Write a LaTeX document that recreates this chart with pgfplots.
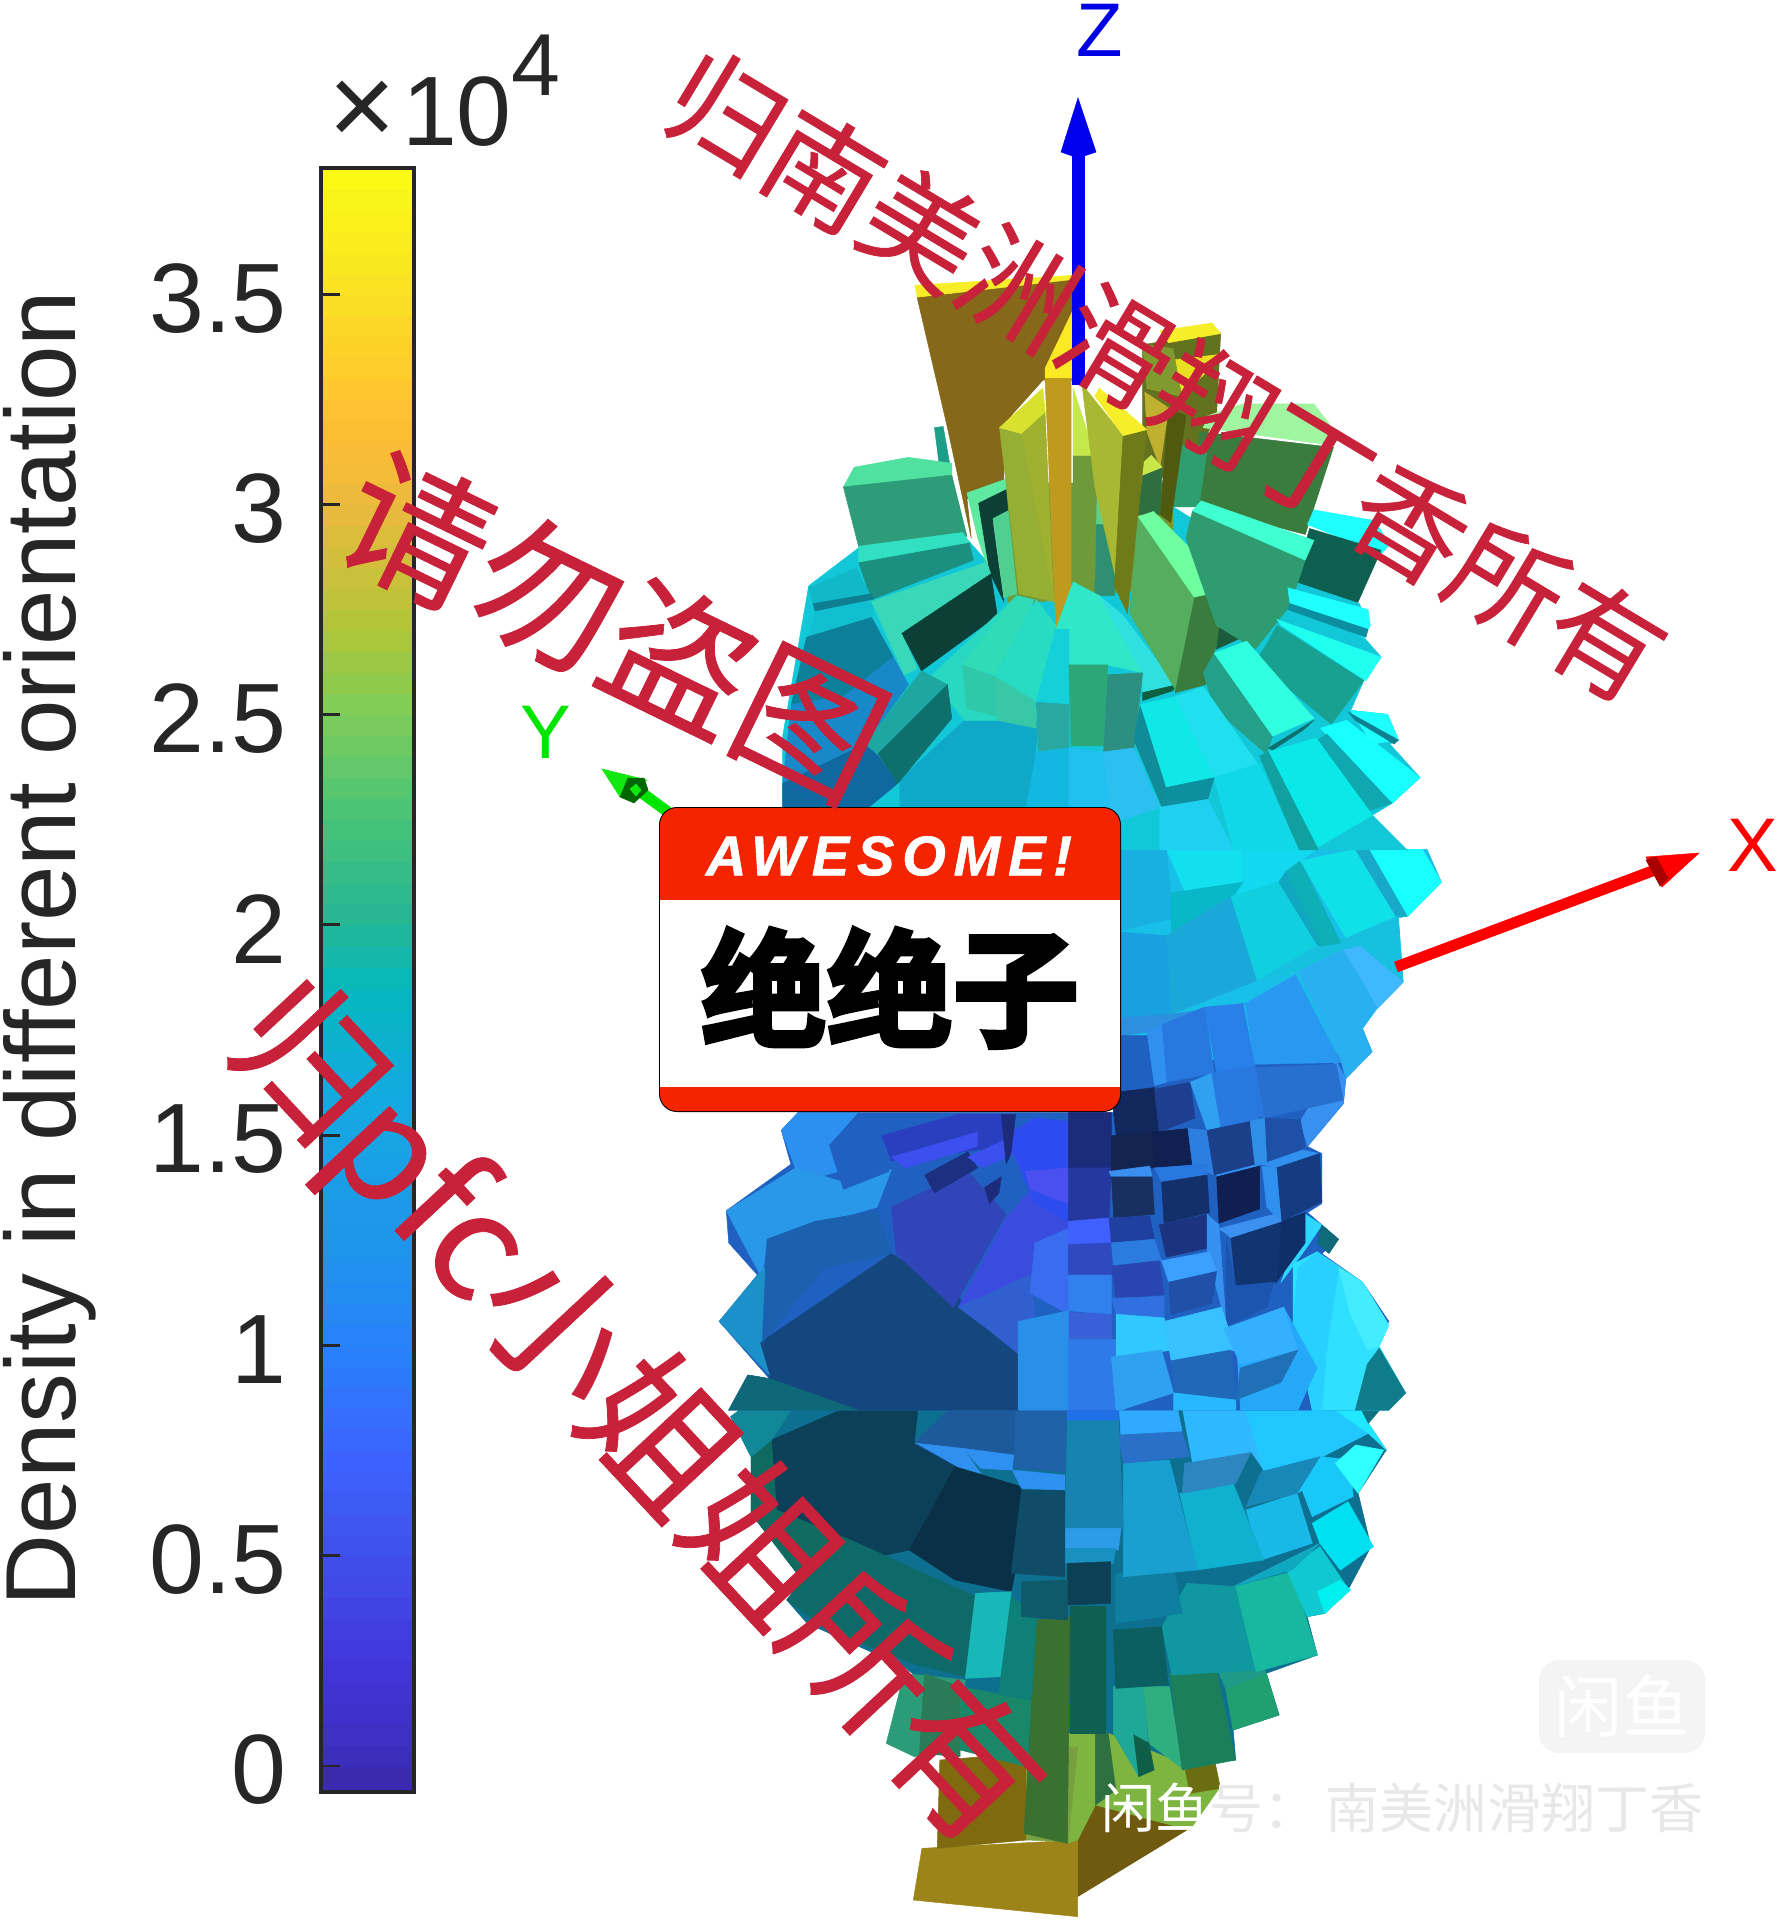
\documentclass[border=0pt]{standalone}
\usepackage{pgfplots}
\pgfplotsset{compat=1.18}
\usepackage{fontspec}
\setmainfont{Liberation Sans}
\newfontfamily\cjk{Noto Sans CJK SC}
\newfontfamily\cjkw[FakeBold=0.5]{Noto Sans CJK SC}
\newfontfamily\cjkh[FakeBold=4]{Noto Sans CJK SC Bold}
\newcommand\Q[2]{\definecolor{q#1}{HTML}{#1}\addplot[fill=q#1,draw=q#1,line width=.25pt,forget plot] coordinates {#2} -- cycle;}
\pgfplotsset{fullpage/.style={at={(0,0)},anchor=south west,scale only axis,width=890pt,height=960pt,hide axis,y dir=reverse,clip=false}}
\begin{document}
\begin{tikzpicture}
\path[use as bounding box] (0,0) rectangle (890pt,960pt);
% colour bar
\begin{axis}[at={(160.5pt,64pt)},anchor=south west,scale only axis,width=46.5pt,height=812pt,
 xmin=0,xmax=1,ymin=-0.062,ymax=3.8,xtick=\empty,
 ytick={0,0.5,1,1.5,2,2.5,3,3.5},yticklabels={0,0.5,1,1.5,2,2.5,3,3.5},
 ytick pos=left,tick align=inside,major tick length=9.5pt,
 tick style={line width=1.4pt,color=black!85},
 axis line style={line width=2.2pt,color=black!85},
 axis on top,
 yticklabel style={font=\fontsize{49.3}{50}\selectfont,color=black!85,inner sep=0pt,anchor=east,xshift=-17pt,yshift=-2pt},
 /pgf/number format/assume math mode=true,
 ylabel={Density in different orientation},
 y label style={font=\fontsize{49.8}{50}\selectfont,color=black!85,at={(axis description cs:-2.645,0.5195)},anchor=base,inner sep=0pt},
 point meta min=-0.062,point meta max=3.8,
 colormap={cb}{rgb255(0cm)=(58,40,165);rgb255(0.062cm)=(60,45,185);rgb255(0.312cm)=(65,55,220);rgb255(0.562cm)=(65,80,235);rgb255(0.812cm)=(60,100,255);rgb255(1.062cm)=(40,130,250);rgb255(1.312cm)=(30,150,235);rgb255(1.662cm)=(20,170,225);rgb255(1.912cm)=(5,185,190);rgb255(2.062cm)=(35,182,150);rgb255(2.312cm)=(70,195,120);rgb255(2.562cm)=(125,205,90);rgb255(2.762cm)=(175,198,55);rgb255(3.062cm)=(235,185,60);rgb255(3.262cm)=(255,190,50);rgb255(3.562cm)=(250,225,35);rgb255(3.862cm)=(250,252,20)}]
\addplot[surf,shader=flat,mesh/rows=78,mesh/cols=2,point meta=y,forget plot] coordinates {
(0,-0.062)(1,-0.062)(0,0)(1,0)(0,0.05)(1,0.05)(0,0.1)(1,0.1)(0,0.15)(1,0.15)(0,0.2)(1,0.2)(0,0.25)(1,0.25)(0,0.3)(1,0.3)(0,0.35)(1,0.35)(0,0.4)(1,0.4)
(0,0.45)(1,0.45)(0,0.5)(1,0.5)(0,0.55)(1,0.55)(0,0.6)(1,0.6)(0,0.65)(1,0.65)(0,0.7)(1,0.7)(0,0.75)(1,0.75)(0,0.8)(1,0.8)(0,0.85)(1,0.85)(0,0.9)(1,0.9)(0,0.95)(1,0.95)
(0,1)(1,1)(0,1.05)(1,1.05)(0,1.1)(1,1.1)(0,1.15)(1,1.15)(0,1.2)(1,1.2)(0,1.25)(1,1.25)(0,1.3)(1,1.3)(0,1.35)(1,1.35)(0,1.4)(1,1.4)(0,1.45)(1,1.45)
(0,1.5)(1,1.5)(0,1.55)(1,1.55)(0,1.6)(1,1.6)(0,1.65)(1,1.65)(0,1.7)(1,1.7)(0,1.75)(1,1.75)(0,1.8)(1,1.8)(0,1.85)(1,1.85)(0,1.9)(1,1.9)(0,1.95)(1,1.95)
(0,2)(1,2)(0,2.05)(1,2.05)(0,2.1)(1,2.1)(0,2.15)(1,2.15)(0,2.2)(1,2.2)(0,2.25)(1,2.25)(0,2.3)(1,2.3)(0,2.35)(1,2.35)(0,2.4)(1,2.4)(0,2.45)(1,2.45)
(0,2.5)(1,2.5)(0,2.55)(1,2.55)(0,2.6)(1,2.6)(0,2.65)(1,2.65)(0,2.7)(1,2.7)(0,2.75)(1,2.75)(0,2.8)(1,2.8)(0,2.85)(1,2.85)(0,2.9)(1,2.9)(0,2.95)(1,2.95)
(0,3)(1,3)(0,3.05)(1,3.05)(0,3.1)(1,3.1)(0,3.15)(1,3.15)(0,3.2)(1,3.2)(0,3.25)(1,3.25)(0,3.3)(1,3.3)(0,3.35)(1,3.35)(0,3.4)(1,3.4)(0,3.45)(1,3.45)
(0,3.5)(1,3.5)(0,3.55)(1,3.55)(0,3.6)(1,3.6)(0,3.65)(1,3.65)(0,3.7)(1,3.7)(0,3.75)(1,3.75)(0,3.8)(1,3.8)};
\end{axis}
% lower part of the rose
\begin{axis}[fullpage,xmin=-1372,xmax=2116.8,ymin=-4200,ymax=1560]
\Q{0E7090}{(60,50)(130,-20)(1310,-20)(1310,70)(1345,150)(1290,280)(1315,440)(1270,570)(1225,640)(1190,650)(1210,765)(1110,820)(1135,945)(1045,990)(1050,1080)(900,1100)(800,1200)(720,1200)(400,800)(210,670)(170,600)(200,540)(100,340)(100,170)}
\Q{6F5A10}{(740,1320)(775,1215)(965,1280)(740,1490)}
\Q{9C8418}{(435,1345)(740,1320)(740,1550)(418,1500)}
\Q{7DB540}{(740,1040)(800,1000)(960,1100)(1020,1160)(960,1290)(775,1215)}
\Q{7DB540}{(720,1000)(800,1000)(775,1215)(740,1320)(720,1330)}
\Q{6B6E10}{(950,1100)(1010,1090)(1020,1165)(960,1180)}
\Q{806A10}{(470,1080)(640,1060)(640,1320)(465,1345)}
\Q{78A040}{(640,1060)(740,1040)(722,1325)(640,1320)}
\Q{2C9C78}{(365,1030)(400,820)(520,840)(510,1050)(420,1070)}
\Q{2A7C58}{(440,820)(510,860)(510,1070)(430,1060)}
\Q{1A8868}{(510,860)(650,900)(640,1100)(510,1050)}
\Q{3A7030}{(660,660)(725,650)(720,1330)(635,1300)}
\Q{2F7040}{(775,1000)(800,1000)(815,1170)(775,1215)}
\Q{0F6050}{(725,620)(795,620)(795,1000)(725,1000)}
\Q{1FA898}{(810,860)(870,860)(880,1080)(860,1130)(810,1000)}
\Q{2FAE80}{(870,860)(920,860)(945,1105)(880,1030)}
\Q{0F5F48}{(850,1005)(880,1030)(890,1110)(860,1130)}
\Q{1C7F5C}{(920,820)(1010,795)(1050,1080)(945,1110)}
\Q{20A070}{(1030,865)(1110,820)(1135,945)(1045,990)}
\Q{1F9A88}{(1010,795)(1090,760)(1110,820)(1030,865)}
\Q{1098A0}{(905,680)(955,550)(1050,560)(1105,810)(925,825)}
\Q{18B8A0}{(1050,560)(1160,515)(1210,765)(1090,815)}
\Q{0B5F60}{(810,690)(905,680)(918,855)(815,865)}
\Q{10C8D0}{(1150,510)(1215,440)(1270,565)(1225,640)(1190,650)}
\Q{00F0F0}{(1210,575)(1255,540)(1275,570)(1225,640)}
\Q{10A8C0}{(1045,560)(1215,430)(1160,510)}
\Q{00E0F0}{(1200,370)(1270,305)(1320,440)(1255,510)(1215,430)}
\Q{18B8E8}{(1070,330)(1170,280)(1200,430)(1100,480)}
\Q{10B0D0}{(940,280)(1045,250)(1105,480)(975,510)}
\Q{0E7FA0}{(815,520)(930,515)(945,640)(815,670)}
\Q{1AA0D0}{(830,190)(920,180)(975,510)(830,530)}
\Q{2E86C0}{(950,190)(1080,155)(1050,250)(945,280)}
\Q{30B8FF}{(940,-20)(1060,-20)(1105,210)(1080,155)(965,185)}
\Q{20C8FF}{(1060,-20)(1220,-20)(1310,100)(1220,170)(1105,215)}
\Q{20E8FF}{(1200,-20)(1300,-20)(1310,70)(1345,150)(1310,100)}
\Q{0F7080}{(1280,-20)(1360,-20)(1310,70)}
\Q{18C8F8}{(1170,230)(1275,180)(1280,290)(1200,350)}
\Q{18C8F8}{(1105,215)(1220,170)(1275,180)(1170,280)}
\Q{1888B8}{(1070,320)(1170,280)(1215,170)(1100,215)}
\Q{30FFFF}{(1285,135)(1340,150)(1290,280)(1245,190)}
\Q{30AAFF}{(820,-20)(930,-20)(945,95)(825,110)}
\Q{2870C8}{(820,105)(945,95)(960,170)(830,190)}
\Q{1683B0}{(720,60)(820,60)(830,385)(715,385)}
\Q{2C9CE8}{(715,385)(825,385)(820,450)(715,445)}
\Q{1890C0}{(715,445)(815,445)(810,490)(715,490)}
\Q{2070E8}{(640,-20)(820,-20)(820,60)(700,60)}
\Q{0E4055}{(720,490)(805,485)(805,610)(720,615)}
\Q{0C3F58}{(140,120)(350,-20)(430,-20)(420,130)(505,200)(410,450)(290,490)(150,330)}
\Q{0A3048}{(500,200)(630,260)(620,500)(610,575)(500,540)(410,450)}
\Q{0E4C68}{(630,270)(715,270)(715,530)(610,520)}
\Q{1C5A9C}{(420,130)(520,-20)(640,-20)(615,205)(515,145)(505,200)}
\Q{1F62A8}{(620,-20)(720,-20)(715,215)(615,205)}
\Q{3090F0}{(425,130)(515,145)(550,220)(505,200)}
\Q{2E90F0}{(515,145)(615,165)(612,210)(550,205)}
\Q{2E90F0}{(612,210)(715,225)(715,270)(630,265)}
\Q{0E6A68}{(295,420)(540,590)(520,830)(415,790)(250,690)(170,600)}
\Q{18B8B8}{(540,580)(610,575)(590,830)(520,835)}
\Q{0E8078}{(610,590)(660,650)(650,900)(585,885)}
\Q{0F5A6A}{(630,545)(720,540)(720,660)(630,650)}
\Q{106A60}{(100,170)(140,120)(150,330)(295,420)(170,600)(200,540)(100,340)}
\Q{108898}{(60,50)(120,-20)(200,-20)(140,120)(100,170)}
\end{axis}
% waist
\begin{axis}[fullpage,xmin=-1463.5,xmax=2257.9,ymin=-2380,ymax=2996]
\Q{2060C0}{(880,600)(1405,565)(1350,640)(1345,710)(1270,830)(1300,850)(1300,990)(1270,1015)(1335,1090)(1300,1130)(1385,1210)(1440,1320)(1410,1395)(1475,1520)(1440,1568)(60,1568)(100,1470)(145,1480)(40,1320)(120,1190)(60,1100)(55,1010)(190,880)(170,785)(205,735)(880,735)}
\Q{18C0E8}{(880,-2)(1520,-2)(1550,90)(1480,185)(1460,190)(1470,370)(1415,445)(1385,500)(1405,565)(880,600)}
\Q{15477F}{(125,1380)(400,1130)(530,1240)(605,1340)(665,1410)(665,1568)(330,1568)(145,1480)}
\Q{0E6878}{(60,1568)(100,1470)(145,1480)(330,1568)}
\Q{2C90F0}{(170,785)(205,735)(330,735)(270,825)(290,900)(210,930)}
\Q{2A98E8}{(55,1010)(200,890)(300,930)(400,895)(370,1000)(140,1090)(130,1200)(90,1100)}
\Q{2060C0}{(270,825)(380,800)(395,900)(300,950)}
\Q{1C90C8}{(40,1320)(120,1190)(235,1050)(250,1150)(125,1380)(145,1470)}
\Q{1C60B0}{(140,1090)(240,1040)(370,1010)(400,1130)(260,1170)(130,1380)}
\Q{3045B8}{(400,1000)(560,900)(640,1020)(530,1280)(410,1130)}
\Q{2A3EC0}{(380,800)(540,740)(650,740)(640,830)(400,870)}
\Q{3C50F0}{(400,860)(580,790)(580,830)(430,890)}
\Q{1C2F80}{(470,910)(560,845)(580,890)(490,960)}
\Q{3C50F0}{(560,860)(640,810)(660,850)(590,890)}
\Q{1C2C7A}{(595,945)(630,915)(625,960)(605,990)}
\Q{3A4CE0}{(640,1030)(700,940)(780,1040)(770,1100)(700,1180)(610,1300)(540,1280)}
\Q{2C4CF0}{(640,800)(700,750)(770,760)(770,1040)(700,990)}
\Q{3060D0}{(540,1280)(690,1190)(700,1300)(665,1410)(600,1340)}
\Q{3A6CF0}{(700,1100)(770,1060)(770,1300)(690,1240)}
\Q{1C2C7A}{(630,740)(660,740)(650,850)(640,880)}
\Q{4A50F0}{(680,900)(770,890)(770,990)(690,950)}
\Q{1C2C7A}{(770,735)(860,735)(860,900)(770,890)}
\Q{2438A0}{(770,890)(860,890)(855,1030)(770,1040)}
\Q{4060FF}{(770,1040)(855,1030)(860,1100)(770,1105)}
\Q{3048C0}{(770,1105)(860,1100)(860,1190)(770,1190)}
\Q{3080F0}{(770,1190)(860,1190)(860,1300)(770,1290)}
\Q{3A60D8}{(770,1295)(860,1300)(860,1400)(770,1370)}
\Q{2890E8}{(665,1320)(770,1290)(770,1568)(665,1568)}
\Q{2E7AE8}{(770,1370)(870,1370)(880,1568)(770,1568)}
% right side, top to bottom
\Q{18B0E0}{(880,-2)(975,-2)(990,190)(880,225)}
\Q{12E0F0}{(975,-2)(1160,-2)(1135,90)(1015,120)}
\Q{12D8F0}{(1135,-2)(1290,-2)(1255,30)(1225,60)(1210,90)(1110,130)(1135,90)}
\Q{08B8C8}{(985,120)(1135,90)(1110,140)(985,240)}
\Q{18C0E0}{(1165,365)(1290,265)(1350,245)(1460,190)(1470,370)(1345,280)(1250,340)}
\Q{0EB0B8}{(1225,60)(1255,30)(1340,260)(1300,270)}
\Q{10E0E8}{(1255,30)(1370,-2)(1455,185)(1350,245)}
\Q{18A8C8}{(1370,-2)(1400,-2)(1480,185)(1455,185)}
\Q{18FFFF}{(1400,-2)(1510,-2)(1550,90)(1480,185)}
\Q{1AA8D8}{(975,240)(1110,130)(1165,365)(985,460)}
\Q{10D0E0}{(1110,130)(1210,90)(1290,265)(1165,365)}
\Q{10A8C0}{(1210,90)(1225,60)(1300,270)(1290,265)}
\Q{18A0E0}{(880,230)(975,240)(985,470)(880,470)}
\Q{2C8FE0}{(880,470)(985,460)(1135,430)(1140,430)(965,490)(935,510)(880,520)}
\Q{40B8FF}{(1345,280)(1380,270)(1470,370)(1415,445)}
\Q{28B0F0}{(1250,340)(1345,280)(1415,440)(1385,500)(1405,565)(1350,640)(1340,590)}
\Q{2898F0}{(1140,430)(1245,350)(1340,595)(1160,600)}
\Q{2878E0}{(965,490)(1055,440)(1075,625)(975,650)}
\Q{2880E8}{(1055,440)(1135,430)(1160,605)(1080,625)}
\Q{2060C0}{(880,520)(935,520)(950,660)(880,670)}
\Q{3090F0}{(935,510)(965,490)(975,650)(950,660)}
\Q{3890F0}{(1330,590)(1350,640)(1345,710)(1270,830)(1255,760)}
\Q{2870D0}{(1160,610)(1330,600)(1345,700)(1180,750)}
\Q{12285C}{(860,680)(950,665)(960,790)(870,800)}
\Q{1E3F90}{(950,670)(1025,650)(1035,750)(960,790)}
\Q{30A0F0}{(1025,650)(1070,625)(1090,785)(1060,785)}
\Q{2878E0}{(1070,625)(1160,605)(1180,750)(1090,785)}
\Q{1E50A8}{(1170,750)(1255,755)(1265,830)(1210,890)(1180,880)}
\Q{12244F}{(860,800)(945,790)(950,890)(860,900)}
\Q{102050}{(945,790)(1020,780)(1030,880)(950,890)}
\Q{2C7FE0}{(1020,780)(1060,785)(1075,910)(1030,885)}
\Q{1C3F8A}{(1060,785)(1150,760)(1160,880)(1075,910)}
\Q{3090E8}{(1150,760)(1180,750)(1185,880)(1160,880)}
% cubes
\Q{3A90F0}{(855,900)(940,885)(945,915)(860,915)}
\Q{183060}{(860,915)(945,915)(950,1020)(865,1030)}
\Q{2878E0}{(950,890)(1060,880)(1060,910)(965,930)}
\Q{14306A}{(965,930)(1060,910)(1065,1015)(970,1045)}
\Q{3090F0}{(1080,910)(1165,880)(1170,885)(1080,915)}
\Q{0F1F50}{(1080,915)(1170,885)(1170,1005)(1085,1045)}
\Q{3090F0}{(1175,880)(1260,840)(1295,850)(1205,890)}
\Q{153C80}{(1205,890)(1295,850)(1300,985)(1215,1040)}
\Q{3090F0}{(1175,885)(1205,890)(1215,1040)(1185,1000)}
\Q{2040A0}{(855,1030)(940,1025)(950,1090)(860,1100)}
\Q{1C3480}{(960,1050)(1060,1020)(1060,1115)(975,1140)}
\Q{3590F0}{(1060,1020)(1085,1050)(1100,1330)(1060,1130)}
\Q{2CD8FF}{(1265,1020)(1300,1050)(1270,1110)(1215,1210)}
\Q{0F6A7A}{(1300,1050)(1335,1090)(1315,1130)(1290,1100)}
\Q{30E0FF}{(1240,1160)(1290,1125)(1385,1210)(1440,1330)(1420,1390)(1475,1520)(1440,1568)(1280,1568)(1240,1320)}
\Q{28D0FF}{(1240,1320)(1250,1170)(1290,1125)(1335,1170)(1310,1400)(1300,1568)(1280,1568)}
\Q{44ECFF}{(1335,1170)(1385,1210)(1440,1330)(1420,1390)(1395,1400)(1360,1300)}
\Q{0F7C8C}{(1395,1440)(1420,1395)(1475,1520)(1440,1568)(1370,1568)}
\Q{0F2F68}{(1215,1040)(1265,1015)(1265,1100)(1205,1210)}
\Q{103570}{(1110,1085)(1215,1040)(1205,1210)(1120,1220)}
\Q{3C90F0}{(1085,1060)(1200,1020)(1215,1040)(1110,1085)}
\Q{1C55B0}{(1100,1085)(1120,1220)(1200,1210)(1185,1280)(1100,1335)}
\Q{2C7CE0}{(860,1100)(950,1090)(965,1150)(865,1165)}
\Q{2845B0}{(860,1165)(960,1150)(970,1245)(870,1255)}
\Q{3BA0FF}{(965,1150)(1065,1125)(1080,1180)(980,1210)}
\Q{2050A8}{(980,1210)(1080,1180)(1070,1270)(985,1300)}
\Q{3070E0}{(860,1255)(970,1250)(970,1310)(870,1300)}
\Q{30C8FF}{(870,1300)(970,1310)(990,1400)(870,1420)}
\Q{30A0F0}{(860,1420)(965,1400)(990,1520)(880,1568)(870,1568)}
\Q{25A8F8}{(1120,1340)(1220,1280)(1290,1450)(1250,1568)(1130,1568)}
\Q{38C0FF}{(970,1320)(1090,1280)(1120,1400)(985,1430)}
\Q{2068B8}{(985,1430)(1110,1400)(1120,1540)(995,1520)}
\Q{28B8FF}{(990,1520)(1120,1540)(1120,1568)(990,1568)}
\Q{34B0FF}{(1095,1340)(1220,1280)(1250,1400)(1130,1440)}
\Q{2070B8}{(1130,1450)(1250,1400)(1215,1490)(1120,1540)}
\end{axis}
% upper part of the rose
\begin{axis}[fullpage,xmin=-1844.7,xmax=2259.8,ymin=-581.7,ymax=4274.2]
\Q{62721E}{(790,290)(970,260)(960,480)(860,640)(790,600)}
\Q{F7EE2A}{(830,255)(950,235)(970,262)(850,285)}
\Q{E8E020}{(800,400)(850,330)(965,315)(965,330)(880,420)}
\Q{7F9B30}{(790,290)(860,300)(880,420)(800,400)}
\Q{A0F5A0}{(940,470)(1020,440)(1185,440)(1220,490)(1230,545)(930,500)}
\Q{3A7B3E}{(920,510)(1230,550)(1165,770)(920,700)}
\Q{2E9E6E}{(880,545)(940,545)(920,700)(860,700)}
\Q{20FFFF}{(1170,745)(1185,708)(1325,735)(1360,795)(1340,820)}
\Q{0F5F50}{(1175,755)(1340,810)(1285,945)(1140,890)}
\Q{1C9E88}{(310,500)(330,497)(345,590)(320,585)}
\Q{50E0A0}{(100,650)(125,600)(250,575)(350,590)(350,625)}
\Q{2E9C78}{(100,650)(350,620)(385,775)(135,800)}
\Q{12C8D8}{(-40,1568)(-40,1280)(20,900)(140,800)(380,775)(480,900)(860,700)(1140,890)(1290,945)(1310,1000)(1300,1030)(1340,1080)(1300,1140)(1270,1215)(1355,1225)(1380,1290)(1360,1300)(1430,1385)(1365,1450)(1320,1480)(1400,1568)}
\Q{85681A}{(270,170)(630,115)(640,380)(560,380)(470,490)(470,640)(385,680)(395,780)(340,500)}
\Q{F7EE2A}{(265,140)(625,115)(630,125)(270,170)}
\Q{FBE925}{(565,350)(635,190)(640,375)(565,375)}
\Q{6E9A3A}{(470,640)(860,640)(860,900)(480,950)}
\Q{0C3F36}{(410,690)(475,655)(480,720)(445,740)(470,940)(430,850)}
\Q{5FE8A0}{(385,665)(475,630)(475,655)(410,690)(435,860)(410,780)}
\Q{50D090}{(445,730)(480,710)(500,920)(470,930)}
\Q{4F5A10}{(850,450)(890,470)(855,740)(830,720)}
\Q{C0B030}{(795,410)(850,450)(830,600)(800,510)}
\Q{2F6E3F}{(790,620)(835,600)(830,720)(780,720)}
\Q{C8E84A}{(790,590)(810,570)(835,600)(790,620)}
\Q{5FD088}{(680,650)(730,745)(680,745)}
\Q{2E9070}{(680,745)(730,745)(725,925)(680,925)}
\Q{6E9A3A}{(630,570)(685,570)(680,890)(630,890)}
\Q{C5E84A}{(630,400)(680,570)(630,570)}
\Q{A8B832}{(650,390)(745,520)(730,890)(680,650)}
\Q{6F7A18}{(745,520)(800,505)(755,970)(725,900)}
\Q{F7EE2A}{(690,400)(800,505)(745,520)(680,420)}
\Q{A0B030}{(510,515)(565,460)(585,940)}
\Q{95AE34}{(460,500)(510,515)(585,940)(505,920)}
\Q{D8E030}{(460,500)(560,400)(565,460)(510,515)}
\Q{BF9A1E}{(565,375)(625,375)(625,1010)(590,1010)}
% front cone
\Q{1C9080}{(135,840)(390,790)(400,835)(165,935)}
\Q{30E0C0}{(135,800)(375,765)(390,790)(135,840)}
\Q{10B8C8}{(20,905)(130,855)(160,920)(30,945)}
\Q{0E7F90}{(30,945)(165,920)(170,935)(35,965)}
\Q{10C0D0}{(35,965)(170,935)(165,990)(20,1030)}
\Q{0C8098}{(15,1030)(165,980)(215,1080)(100,1180)(-20,1200)}
\Q{1888C8}{(-20,1200)(100,1180)(215,1080)(250,1150)(150,1300)(0,1380)(-40,1400)}
\Q{1068A0}{(-40,1400)(150,1300)(180,1330)(225,1400)(150,1468)(-40,1568)}
\Q{38D8B8}{(165,940)(430,840)(440,870)(235,1020)(270,1110)(240,1125)}
\Q{0C3F36}{(235,1020)(440,870)(455,975)(280,1115)}
\Q{10A8C8}{(230,1390)(380,1240)(550,1240)(530,1470)(230,1470)}
\Q{28D8C0}{(300,1130)(500,925)(590,1000)(540,1195)(550,1240)(380,1240)}
\Q{30DCB8}{(375,1100)(500,925)(540,935)(450,1125)}
\Q{28DCC4}{(455,1130)(545,935)(590,1000)(545,1195)}
\Q{2FC8A8}{(375,1100)(450,1130)(455,1230)(385,1210)}
\Q{38C8A8}{(450,1130)(540,1190)(545,1260)(455,1240)}
\Q{1CA8A0}{(150,1300)(280,1115)(340,1150)(180,1325)}
\Q{0E6F6C}{(180,1325)(340,1150)(350,1235)(225,1400)}
\Q{30E8C8}{(590,1010)(630,890)(690,925)(790,1120)(710,1100)(620,1100)}
\Q{14D0D8}{(545,1190)(590,1010)(620,1010)(620,1200)}
\Q{30E0E0}{(690,925)(745,975)(865,1150)(790,1170)(790,1120)}
\Q{2CA878}{(620,1100)(710,1100)(700,1305)(625,1305)}
\Q{2C8F80}{(710,1125)(790,1120)(770,1310)(700,1320)}
\Q{28A8A0}{(545,1195)(620,1200)(620,1325)(550,1325)}
\Q{12B8E0}{(520,1470)(545,1320)(620,1310)(620,1470)}
\Q{20C0F0}{(620,1310)(700,1320)(720,1470)(620,1470)}
\Q{2CC0F0}{(700,1320)(770,1310)(830,1460)(720,1500)}
\Q{0E5F40}{(790,1170)(870,1150)(860,1165)(790,1190)}
\Q{55AD5E}{(780,725)(910,930)(870,1170)(760,970)}
\Q{6DFFA0}{(780,725)(815,712)(995,910)(910,930)}
\Q{3A7B3E}{(910,930)(995,910)(935,1150)(865,1170)}
\Q{1C5A3C}{(975,945)(1045,940)(1020,1030)(960,1060)}
\Q{40E0A0}{(990,905)(1045,940)(980,970)}
\Q{2E9C70}{(905,710)(1165,835)(1130,950)(1050,1060)(960,1000)(890,780)}
\Q{40FFD0}{(905,710)(925,685)(1185,785)(1165,835)}
\Q{20FFFF}{(1125,905)(1310,960)(1315,1000)(1300,1030)(1130,945)}
\Q{0B8FA0}{(1130,945)(1310,1010)(1305,1030)(1125,960)}
\Q{18A090}{(1075,1050)(1100,1000)(1300,1140)(1225,1250)(1050,1090)}
\Q{1FFFF0}{(1100,985)(1340,1080)(1305,1140)(1110,1000)}
\Q{25A088}{(930,1120)(955,1070)(1090,1280)(1075,1325)(955,1210)}
\Q{30FFE0}{(955,1070)(1030,1040)(1185,1235)(1090,1280)}
\Q{0E6F6C}{(1080,1310)(1185,1240)(1160,1265)(1090,1315)}
\Q{20FFFF}{(1270,1215)(1355,1225)(1380,1290)(1320,1300)}
\Q{0E7F90}{(1265,1220)(1380,1290)(1370,1300)(1280,1240)}
\Q{18FFFF}{(1200,1260)(1260,1240)(1430,1385)(1365,1450)}
\Q{10A8B0}{(1185,1295)(1215,1275)(1365,1450)(1310,1470)}
\Q{0AE8E8}{(1080,1320)(1190,1285)(1320,1480)(1195,1560)}
\Q{10A0A0}{(1060,1330)(1080,1320)(1195,1568)(1150,1568)}
\Q{108C98}{(770,1290)(785,1200)(845,1410)(835,1460)}
\Q{10E8E8}{(785,1200)(865,1180)(955,1385)(845,1410)}
\Q{20E0F0}{(865,1180)(930,1155)(1055,1350)(955,1385)}
\Q{0E8FA0}{(845,1410)(955,1385)(940,1440)(835,1460)}
\Q{10D8E8}{(955,1385)(1060,1350)(1150,1568)(1000,1568)}
\Q{20D0F0}{(830,1460)(940,1440)(1000,1568)(830,1568)}
\end{axis}
% arrows, sticker and overlaid text, in pixels of the reference
\begin{axis}[fullpage,xmin=0,xmax=1780,ymin=0,ymax=1920]
\addplot[line width=6.5pt,color=blue!95!black,forget plot] coordinates {(1078,150)(1078,385)};
\Q{0000EE}{(1061,152)(1078,98)(1096,152)(1078,158)}
\addplot[line width=5.5pt,color=red,forget plot] coordinates {(1396,967)(1655,870)};
\Q{FF0000}{(1646,857)(1699,853)(1662,887)}
\Q{A80000}{(1646,860)(1656,857)(1668,878)(1660,886)}
\addplot[line width=5.5pt,color=green!90!black,forget plot] coordinates {(634,787)(668,812)};
\Q{10E810}{(602,769)(647,780)(620,797)}
\Q{006600}{(620,797)(628,778)(644,778)(648,790)(634,803)}
\Q{10E810}{(630,789)(636,784)(641,790)(636,796)}
\node[font=\fontsize{38}{40}\selectfont,color=blue!90!black] at (axis cs:1100,30) {Z};
\node[font=\fontsize{38}{40}\selectfont,color=red] at (axis cs:1753,845) {X};
\node[font=\fontsize{38}{40}\selectfont,color=green!90!black] at (axis cs:546,732) {Y};
\node[color=black!85,anchor=base west,inner sep=0pt] at (axis cs:328,146) {\fontsize{58}{60}\selectfont ×\fontsize{49.3}{50}\selectfont\hspace{3pt}10\raisebox{25pt}{\fontsize{44}{46}\selectfont 4}};
% sticker
\fill[black,rounded corners=9pt] (axis cs:659,807) rectangle (axis cs:1121,1112);
\definecolor{stk}{HTML}{F42400}
\fill[stk,rounded corners=8.5pt] (axis cs:660,808) rectangle (axis cs:1120,1111);
\fill[white] (axis cs:660,900) rectangle (axis cs:1120,1087);
\node[font=\fontsize{28}{30}\bfseries\itshape\addfontfeatures{LetterSpace=14,FakeBold=1}\selectfont,color=white] at (axis cs:889,856) {AWESOME!};
\node[font=\fontsize{63}{64}\selectfont\cjkh,color=black] at (axis cs:890,988) {绝绝子};
% watermarks
\definecolor{logo}{HTML}{F4F4F4}
\fill[logo,rounded corners=10pt] (axis cs:1539,1660) rectangle (axis cs:1705,1753);
\node[font=\fontsize{34}{36}\selectfont\cjk,color=white] at (axis cs:1622,1706) {闲鱼};
\node[font=\fontsize{27}{28}\selectfont\cjk,color=white,anchor=west] at (axis cs:1094,1808) {闲鱼};
\node[font=\fontsize{27}{28}\selectfont\cjk,color=gray!18,anchor=west] at (axis cs:1202,1808) {号：\hspace{4pt}南美洲滑翔丁香};
\definecolor{wm}{HTML}{C8213A}
\node[font=\fontsize{57}{60}\selectfont\cjkw,color=wm,rotate=-31] at (axis cs:1166,376) {归南美洲滑翔丁香所有};
\node[font=\fontsize{73}{76}\selectfont\cjkw,color=wm,rotate=-26] at (axis cs:614,626) {请勿盗图};
\node[font=\fontsize{74.5}{76}\selectfont\cjkw,color=wm,rotate=-47] at (axis cs:631,1417) {归pfc小姐姐所有};
\end{axis}
\end{tikzpicture}
\end{document}
